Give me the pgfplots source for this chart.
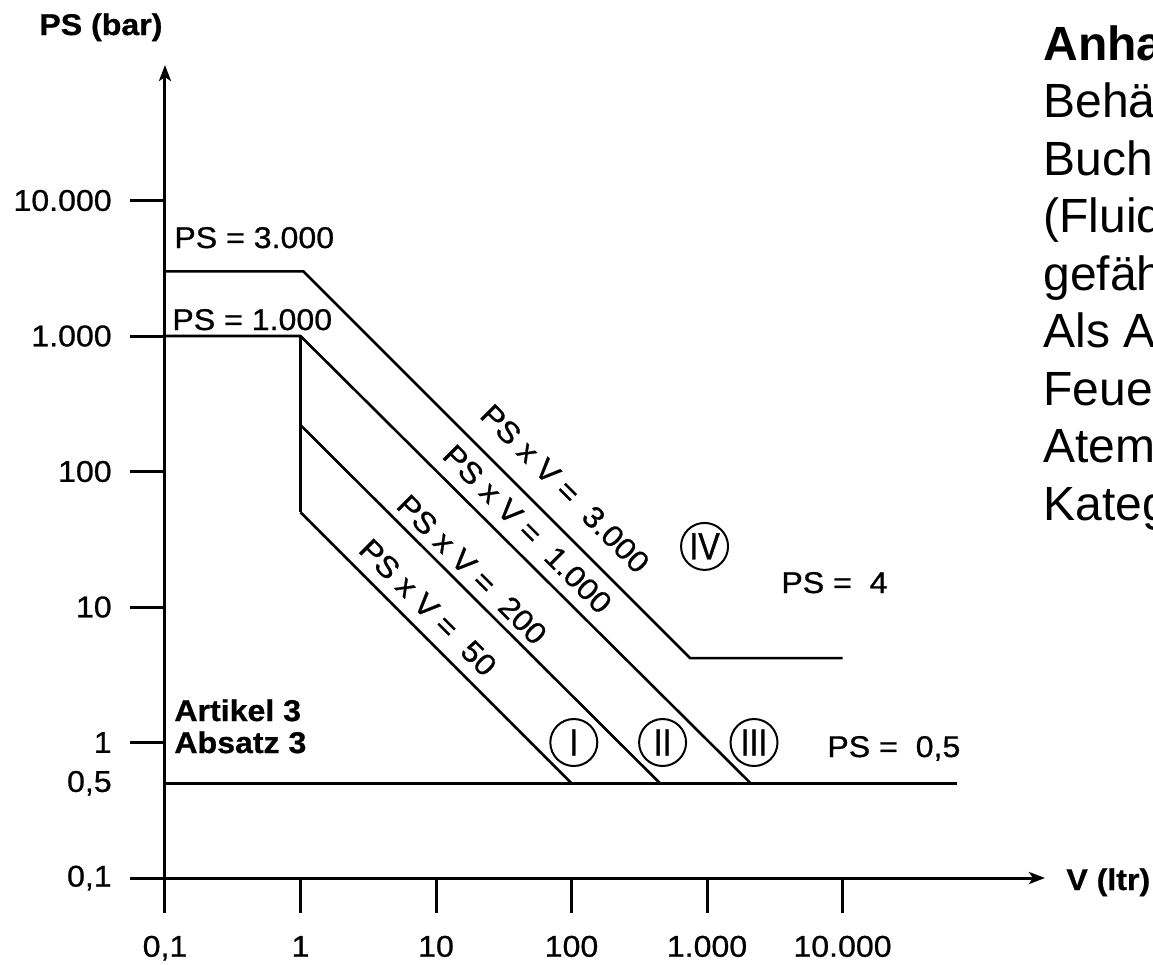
\documentclass[border=0pt]{standalone}
\usepackage{fontspec}
\setmainfont{Liberation Sans}[FakeStretch=1.07, FakeBold=0.8]
\newfontfamily\txtfont{Liberation Sans}
\usepackage{pgfplots}
\pgfplotsset{compat=1.18}
\usetikzlibrary{arrows.meta}
\newcommand\fs{\fontsize{15}{18}\selectfont}
\newcommand\rs{\txtfont\fontsize{24}{28}\selectfont}
\newcommand\cs{\fontsize{19}{19}\selectfont\addfontfeature{FakeStretch=0.85}}
\begin{document}
\begin{tikzpicture}
\begin{axis}[
  at={(82.5pt,-439pt)}, anchor=south west,
  scale only axis, width=440pt, height=406.5pt,
  xmode=log, ymode=log,
  xmin=0.1, xmax=3.12e5, ymin=0.1, ymax=1e5,
  axis x line=bottom, axis y line=left,
  axis line style={line width=1.5pt, black},
  x axis line style={-{Stealth[length=8pt,width=6pt,inset=2pt]}},
  y axis line style={-{Stealth[length=8pt,width=6pt,inset=2pt]}},
  xtick={0.1,1,10,100,1000,10000},
  xticklabels={{0{,}1},1,10,100,{1.000},{10.000}},
  ytick={0.1,1,10,100,1000,10000},
  yticklabels={{0{,}1},1,10,100,{1.000},{10.000}},
  extra y ticks={0.5}, extra y tick labels={0{,}5},
  extra y tick style={major tick style={draw=none}},
  minor tick style={draw=none}, minor tick length=0pt,
  tick align=outside, major tick length=17.5pt,
  tick style={line width=1.5pt, black},
  tick label style={font=\fs, inner sep=0pt, black},
  /pgf/number format/assume math mode=true,
  xticklabel style={text height=10.7pt, text depth=3pt, yshift=-11pt},
  yticklabel style={xshift=-9pt},
  clip=false,
]
\addplot[line width=1.3pt] coordinates {(0.1,3000) (1.05,3000) (750,4.2) (10000,4.2)};
\addplot[line width=1.3pt] coordinates {(0.1,1000) (1,1000) (2100,0.5)};
\addplot[line width=1.3pt] coordinates {(1,1000) (1,50)};
\addplot[line width=1.3pt] coordinates {(1,220) (450,0.5)};
\addplot[line width=1.3pt] coordinates {(1,50) (100,0.5)};
\addplot[line width=1.3pt] coordinates {(0.1,0.5) (70000,0.5)};

\node[rotate=-45, font=\fs] at (axis cs:89.6,74.8) {PS x V = \ 3.000};
\node[rotate=-45, font=\fs] at (axis cs:47.3,37.6) {PS x V = \ 1.000};
\node[rotate=-45, font=\fs] at (axis cs:18.4,18.9) {PS x V = \ 200};
\node[rotate=-45, font=\fs] at (axis cs:8.73,9.93) {PS x V = \ 50};

\node[circle, draw, line width=1pt, minimum size=23.5pt, inner sep=0pt, font=\cs] at (axis cs:959,28) {IV};
\node[circle, draw, line width=1pt, minimum size=23.5pt, inner sep=0pt, font=\cs] at (axis cs:104,1) {I};
\node[circle, draw, line width=1pt, minimum size=23.5pt, inner sep=0pt, font=\cs] at (axis cs:470,1) {II};
\node[circle, draw, line width=1pt, minimum size=23.5pt, inner sep=0pt, font=\cs] at (axis cs:2222,1) {III};
\end{axis}
\begin{scope}[x=0.5pt,y=-0.5pt, every node/.style={anchor=base west, inner sep=0pt}]
\node[font=\fs\bfseries] at (39,35) {PS (bar)};
\node[font=\fs\bfseries] at (1066,890) {V (ltr)};
\node[font=\fs] at (174,248) {PS = 3.000};
\node[font=\fs] at (172,330) {PS = 1.000};
\node[font=\fs\bfseries] at (174,721) {Artikel 3};
\node[font=\fs\bfseries] at (174,753) {Absatz 3};
\node[font=\fs] at (781,593) {PS = \ 4};
\node[font=\fs] at (827,757) {PS = \ 0,5};
\node[font=\rs\bfseries] at (1043,60) {Anhang II, Diagramm 1};
\node[font=\rs] at (1043,117.5) {Behälter nach Artikel 3 Nummer 1.1};
\node[font=\rs] at (1043,175) {Buchstabe a) erster Gedankenstrich};
\node[font=\rs] at (1043,232.5) {(Fluide der Gruppe 1,};
\node[font=\rs] at (1043,290) {gefährlich)};
\node[font=\rs] at (1043,347.5) {Als Ausnahme werden tragbare};
\node[font=\rs] at (1043,405) {Feuerlöscher und Flaschen für};
\node[font=\rs] at (1043,462.5) {Atemschutzgeräte mindestens in};
\node[font=\rs] at (1043,520) {Kategorie III eingestuft.};
\end{scope}
\pgfresetboundingbox
\path[use as bounding box] (0,0) rectangle (576.5pt,-482.5pt);
\end{tikzpicture}
\end{document}
